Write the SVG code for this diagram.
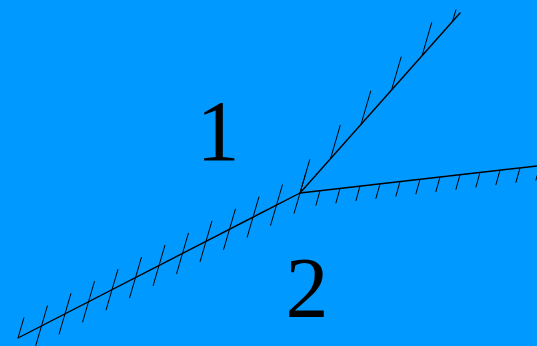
<svg xmlns="http://www.w3.org/2000/svg" width="537" height="346" viewBox="0 0 537 346">
<style>
.main{stroke:#000;stroke-width:1.4;fill:none;stroke-linecap:round}
.hatch{stroke:#000;stroke-width:1;fill:none}
.lbl{font-family:"Liberation Serif","Times New Roman",serif;font-size:86px;fill:#000}
</style>
<rect width="537" height="346" fill="#0099ff"/>
<g id="connectors">
<g id="line1">
<line class="main" x1="18" y1="338" x2="300" y2="193"/>
<path class="hatch" d="M18,338L24,317.5M47.5,305.42L35.5,346.42M71,293.33L59,334.33M94.5,281.25L82.5,322.25M118,269.17L106,310.17M141.5,257.08L129.5,298.08M165,245L153,286M188.5,232.92L176.5,273.92M212,220.83L200,261.83M235.5,208.75L223.5,249.75M259,196.67L247,237.67M282.5,184.58L270.5,225.58M306,172.5L294,213.5"/>
</g>
<g id="line2">
<line class="main" x1="300" y1="193" x2="540" y2="165.6"/>
<path class="hatch" d="M320,190.72L315.8,205.62M340,188.44L335.8,203.34M360,186.16L355.8,201.06M380,183.88L375.8,198.78M400,181.6L395.8,196.5M420,179.32L415.8,194.22M440,177.04L435.8,191.94M460,174.76L455.8,189.66M480,172.48L475.8,187.38M500,170.2L495.8,185.1M520,167.92L515.8,182.82M540,165.64L535.8,180.54"/>
</g>
<g id="line3">
<line class="main" x1="300" y1="193" x2="460" y2="13"/>
<path class="hatch" d="M300,193L309.8,159.4M330.5,158.7L340.3,125.1M361,124.4L370.8,90.8M391.5,90.1L401.3,56.5M422,55.8L431.8,22.2M452.5,21.5L456,9.5"/>
</g>
</g>
<g id="region1"><text class="lbl" x="196.5" y="160">1</text></g>
<g id="region2"><text class="lbl" x="285.4" y="317">2</text></g>
</svg>
